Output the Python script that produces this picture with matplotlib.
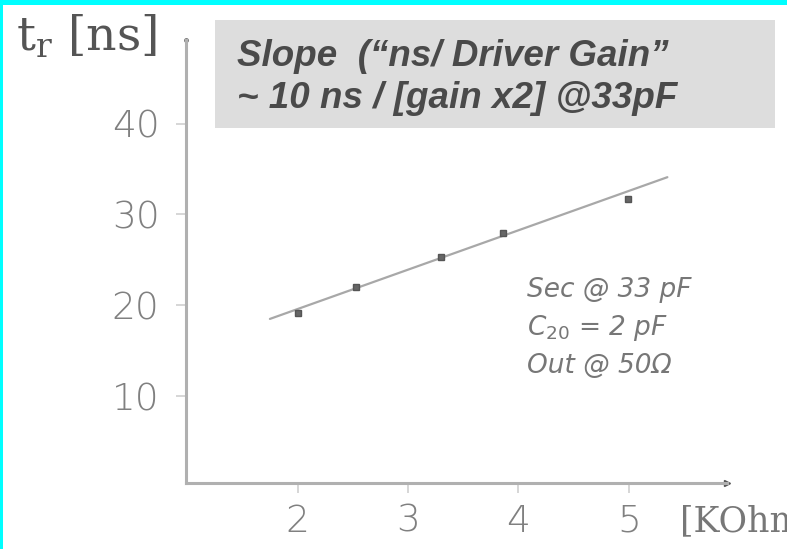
import numpy as np
import matplotlib
matplotlib.use('Agg')
import matplotlib.pyplot as plt
from matplotlib.patches import Rectangle

# values
res_kohm = [2.0, 2.53, 3.30, 3.86, 4.99]      # driver resistor [KOhm]
tr_ns = [19.2, 22.0, 25.3, 28.0, 31.7]        # rise time [ns]
fit_x = [1.75, 5.35]                          # hand drawn straight line
fit_y = [18.5, 34.1]
xticks = [2, 3, 4, 5]
yticks = [10, 20, 30, 40]
notes = ['Sec @ 33 pF', 'C$_{20}$ = 2 pF', 'Out @ 50\u03a9']
box_lines = ['Slope  (\u201cns/ Driver Gain\u201d', '~ 10 ns / [gain x2] @33pF']

W, H = 787, 549
fig = plt.figure(figsize=(W / 100, H / 100), dpi=100)
fig.patch.set_facecolor('white')

def fx(px):
    return px / W

def fy(py):
    return (H - py) / H

ax = fig.add_axes([fx(186), fy(483), fx(727) - fx(186), fy(40) - fy(483)])
ax.set_xlim(0.99, 5.89)
ax.set_ylim(0.44, 49.2)
ax.patch.set_alpha(0)

ax.plot(fit_x, fit_y, color='#a8a8a8', lw=1.6, solid_capstyle='round')
ax.plot(res_kohm, tr_ns, 's', color='#666666', ms=4.5, mec='#555555')

for s in ['top', 'right']:
    ax.spines[s].set_visible(False)
for s in ['left', 'bottom']:
    ax.spines[s].set_color('#b0b0b0')
    ax.spines[s].set_linewidth(2.2)
ax.plot([1], [0], marker='>', ms=5, color='#555555', transform=ax.transAxes, clip_on=False)
ax.plot([0], [1], marker='.', ms=5, color='#777777', transform=ax.transAxes, clip_on=False)

ax.set_xticks(xticks)
ax.set_yticks(yticks)
ax.tick_params(axis='both', colors='#cfcfcf', length=7, width=1.2,
               labelcolor='#808080', labelsize=27)
ax.tick_params(axis='x', pad=8)
ax.tick_params(axis='y', pad=12)
for lab in ax.get_xticklabels() + ax.get_yticklabels():
    lab.set_family('DejaVu Sans')
    lab.set_fontweight('light')

# axis titles, serif like the scan
fig.text(fx(16), fy(37), 't$_\\mathregular{r}$ [ns]', family='DejaVu Serif', fontsize=34,
         color='#555555', va='center', ha='left')
fig.text(fx(680), fy(521), '[KOhm]', family='DejaVu Serif', fontsize=25,
         color='#777777', va='center', ha='left')

# handwritten notes
for i, t in enumerate(notes):
    fig.text(fx(527), fy(290 + i * 38), t, fontsize=19, color='#777777',
             style='italic', va='center', ha='left')

# grey box with the slope comment
fig.patches.append(Rectangle((fx(215), fy(128)), fx(775) - fx(215), fy(20) - fy(128),
                             transform=fig.transFigure, facecolor='#dddddd',
                             edgecolor='none', zorder=2))
for i, t in enumerate(box_lines):
    fig.text(fx(237), fy(56 + i * 42), t, family='Liberation Sans', fontsize=26.5,
             fontweight='bold', style='italic', color='#4a4a4a',
             va='center', ha='left', zorder=3)

# cyan frame of the slide
fig.patches.append(Rectangle((0, fy(5)), 1, fy(0) - fy(5), transform=fig.transFigure,
                             facecolor='#00ffff', edgecolor='none', zorder=4))
fig.patches.append(Rectangle((0, 0), fx(3), 1, transform=fig.transFigure,
                             facecolor='#00ffff', edgecolor='none', zorder=4))

fig.savefig('out.png', dpi=100)
